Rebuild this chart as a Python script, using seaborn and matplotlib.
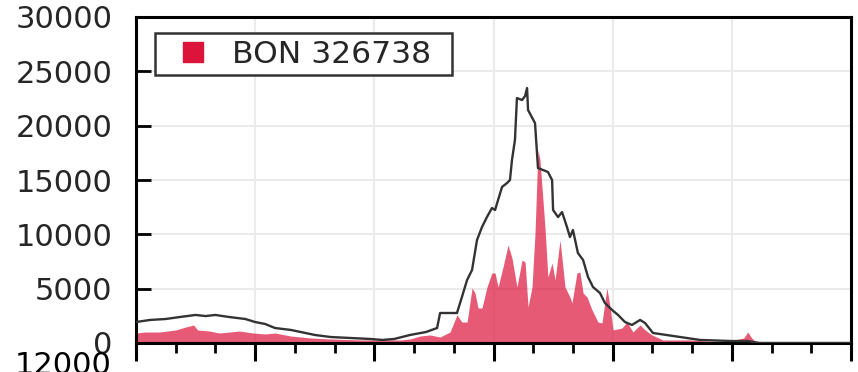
import matplotlib
matplotlib.use("Agg")
import matplotlib.pyplot as plt
from matplotlib.lines import Line2D
from matplotlib.patches import Rectangle
from matplotlib.ticker import MultipleLocator
import seaborn as sns
import pandas as pd

# Overall profile (black outline)
total_x = [0, 7, 15, 22, 30, 35, 40, 47, 55, 60,
           65, 70, 78, 83, 90, 98, 108, 118, 124, 130,
           138, 146, 151.6, 153.1, 161.6, 164.1, 166.7, 169.2, 171.7, 174.2,
           176.7, 179.2, 180.8, 182.3, 184.3, 186.8, 188.3, 189.3, 190.8, 191.8,
           194.4, 195.9, 196.9, 197.4, 200.9, 202.4, 207.4, 209.5, 210.0, 212.5,
           214.5, 217.0, 218.5, 220.0, 222.5, 225.1, 227.6, 230.1, 233.6, 236.1,
           239.7, 242.7, 246.2, 249.7, 253.8, 256.3, 260.3, 267, 274, 284,
           300, 308, 314, 360]
total_y = [1930, 2120, 2210, 2390, 2580, 2480, 2580, 2390, 2210, 1930,
           1750, 1380, 1200, 1010, 740, 550, 460, 370, 280, 370,
           740, 1010, 1380, 2760, 2760, 4230, 5800, 6720, 9480, 10670,
           11590, 12420, 12240, 13160, 14360, 14720, 15000, 16840, 18680, 22540,
           22360, 22730, 23460, 21440, 20240, 16100, 15740, 15000, 12240, 11590,
           12050, 10670, 9750, 10400, 8280, 7640, 6070, 5150, 4600, 3680,
           3040, 2580, 1930, 1660, 2120, 1840, 920, 740, 550, 280,
           180, 180, 0, 0]

# BON 326738 profile (filled)
bon_x = [0, 4.5, 12, 20, 25, 29, 31, 37, 42, 47,
         52, 59, 65, 70, 78, 88, 98, 113, 133, 138,
         143, 148, 153.1, 158.1, 161.6, 164.1, 166.7, 169.2, 170.7, 172.2,
         174.2, 176.7, 179.2, 180.8, 182.3, 184.8, 187.3, 189.3, 191.8, 194.4,
         195.9, 197.4, 199.4, 200.9, 202.4, 203.4, 204.9, 205.9, 207.4, 209.5,
         211.0, 213.5, 216.0, 218.5, 219.5, 222.0, 223.5, 225.1, 227.1, 229.6,
         232.6, 234.6, 237.1, 238.7, 240.2, 244.7, 247.2, 250.2, 253.8, 256.3,
         259.8, 265.3, 279, 296, 306, 308, 310, 312, 314, 360]
bon_y = [920, 1010, 1010, 1200, 1470, 1660, 1200, 1100, 920, 1010,
         1100, 920, 830, 920, 640, 460, 370, 280, 280, 370,
         640, 740, 550, 1010, 2580, 1930, 1930, 5060, 4600, 3220,
         3220, 5150, 6440, 6440, 5150, 6990, 9020, 7820, 5150, 7640,
         7450, 3310, 5150, 10120, 17760, 16840, 13160, 10670, 6070, 7360,
         5800, 9480, 5150, 4230, 3680, 6440, 6530, 4600, 4230, 3040,
         1930, 1840, 5060, 3310, 1200, 1380, 1930, 1010, 1660, 1200,
         740, 280, 280, 90, 460, 1010, 460, 90, 0, 0]

y_ticks = [0, 5000, 10000, 15000, 20000, 25000, 30000]
legend_label = "BON 326738"
lower_label = "12000"

red = "#DC143C"
dark = "#333333"

sns.set_theme(style="whitegrid")
plt.rcParams["font.family"] = ["DejaVu Sans"]

W, H = 858, 372
fig = plt.figure(figsize=(W / 100, H / 100), dpi=100)
ax = fig.add_axes([136 / W, 1 - 343 / H, 715 / W, 326 / H])
ax.set_facecolor("white")

ax.fill_between(bon_x, bon_y, 0, color=red, alpha=0.7, linewidth=0, zorder=2)
sns.lineplot(data=pd.DataFrame({"x": total_x, "y": total_y}), x="x", y="y",
             color=dark, linewidth=1.7, ax=ax, zorder=3, estimator=None, sort=False)

ax.set_xlim(0, 360)
ax.set_ylim(0, 30000)
ax.set_yticks(y_ticks)
ax.set_yticklabels([str(v) for v in y_ticks])
ax.xaxis.set_major_locator(MultipleLocator(60))
ax.xaxis.set_minor_locator(MultipleLocator(20))
ax.set_xticklabels([])
ax.set_xlabel("")
ax.set_ylabel("")

ax.grid(True, which="major", color="#EBEBEB", linewidth=1.5)
ax.grid(False, which="minor")
ax.set_axisbelow(True)

for s in ax.spines.values():
    s.set_color("black")
    s.set_linewidth(2.2)

ax.tick_params(axis="y", direction="in", length=11, width=2, color="black",
               labelsize=22, pad=17, left=True)
ax.tick_params(axis="x", which="major", direction="out", length=13, width=2.2,
               color="black", bottom=True)
ax.tick_params(axis="x", which="minor", direction="out", length=7, width=2,
               color="black", bottom=True)

# legend frame drawn as a plain box, legend entries placed inside it
ax.add_patch(Rectangle((155 / W, 1 - 75 / H), 297 / W, 42 / H,
                       transform=fig.transFigure, facecolor="white",
                       edgecolor=dark, linewidth=1.8, zorder=4.5, clip_on=False))
handle = Line2D([], [], marker="s", color=red, linestyle="none", markersize=14)
leg = ax.legend([handle], [legend_label], loc="upper left",
                bbox_to_anchor=(19 / 715, 308 / 326), borderaxespad=0,
                fontsize=22.6, frameon=False,
                handlelength=2.15, handletextpad=0.15, borderpad=0.15)
leg.set_zorder(5)

fig.text(112 / W, 1 - 366 / H, lower_label, ha="right", va="center",
         fontsize=22, color="black")

fig.savefig("out.png", dpi=100)
